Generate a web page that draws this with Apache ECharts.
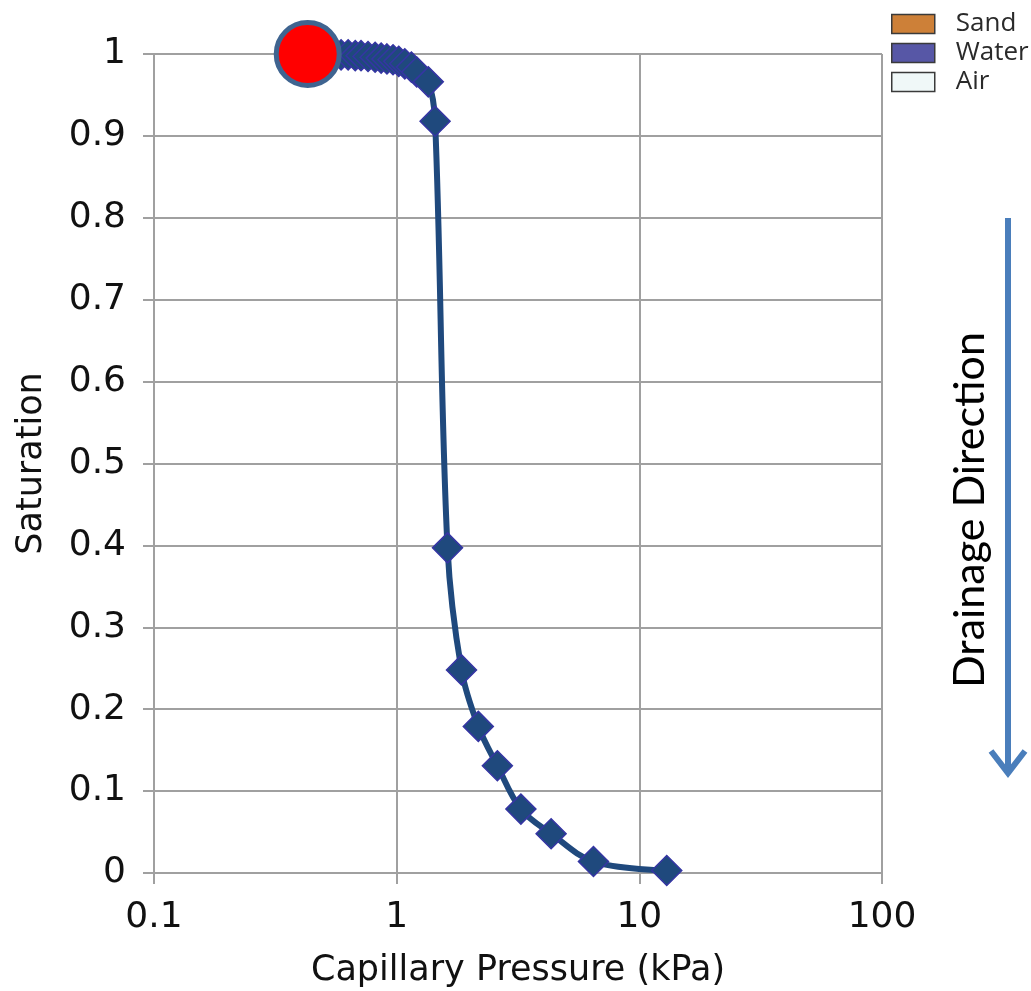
<!DOCTYPE html>
<html>
<head>
<meta charset="utf-8">
<style>
  html, body { margin: 0; padding: 0; background: #fff; }
  #chart { width: 1031px; height: 991px; }
</style>
<script src="https://cdn.jsdelivr.net/npm/echarts@6/dist/echarts.min.js"></script>
</head>
<body>
<div id="chart"></div>
<script>
// capillary pressure (kPa) and saturation along the drainage curve
var pressure = [0.43, 0.455, 0.483, 0.516, 0.552, 0.590, 0.631, 0.675, 0.713, 0.762,
                0.815, 0.863, 0.912, 0.966, 1.02, 1.08, 1.15, 1.21, 1.35, 1.44,
                1.62, 1.85, 2.17, 2.60, 3.25, 4.33, 6.47, 12.97];
var saturation = [1.0, 1.0, 1.0, 1.0, 0.999, 0.999, 0.999, 0.998, 0.998, 0.997,
                  0.996, 0.995, 0.994, 0.993, 0.991, 0.988, 0.984, 0.978, 0.966, 0.918,
                  0.397, 0.248, 0.179, 0.131, 0.078, 0.048, 0.014, 0.003];
// current state marker
var currentPoint = [0.43, 1.0];
var xTickLabels = ['0.1', '1', '10', '100'];
var yTickLabels = ['0', '0.1', '0.2', '0.3', '0.4', '0.5', '0.6', '0.7', '0.8', '0.9', '1'];
var legendNames = ['Sand', 'Water', 'Air'];
var legendColors = ['#cd8038', '#5757a6', '#f0f8f8'];

(function () {
    var chart = echarts.init(document.getElementById('chart'));
    var curve = pressure.map(function (p, i) { return [p, saturation[i]]; });
    var gridColor = '#a0a0a0';
    var axisFont = 'DejaVu Sans';

    var series = [
        {
            name: 'Drainage',
            type: 'line',
            data: curve,
            smooth: 0.35,
            symbol: 'diamond',
            symbolSize: 30,
            showAllSymbol: true,
            lineStyle: { color: '#1f497d', width: 6 },
            itemStyle: { color: '#1f497d', borderColor: '#3535a3', borderWidth: 1.5, opacity: 1 },
            z: 3
        },
        {
            name: 'Current',
            type: 'scatter',
            data: [currentPoint],
            symbol: 'circle',
            symbolSize: 63,
            itemStyle: { color: '#ff0000', borderColor: '#3f6490', borderWidth: 5, opacity: 1 },
            z: 5
        }
    ];
    legendNames.forEach(function (n, i) {
        series.push({ name: n, type: 'line', data: [], itemStyle: { color: legendColors[i] } });
    });

    chart.setOption({
        animation: false,
        grid: { left: 154, right: 149, top: 54, bottom: 118, outerBoundsMode: 'none' },
        legend: {
            data: legendNames.map(function (n, i) {
                return {
                    name: n,
                    icon: 'rect',
                    itemStyle: { color: legendColors[i], borderColor: '#3a3a3a', borderWidth: 1.5 }
                };
            }),
            orient: 'vertical',
            left: 891,
            top: 11,
            padding: 0,
            itemWidth: 43,
            itemHeight: 19,
            itemGap: 3,
            selectedMode: false,
            textStyle: { fontFamily: 'Open Sans', fontSize: 26, color: '#2a2a2a', padding: [0, 0, 0, 16] }
        },
        xAxis: {
            type: 'log',
            logBase: 10,
            min: 0.1,
            max: 100,
            name: 'Capillary Pressure (kPa)',
            nameLocation: 'middle',
            nameGap: 98,
            nameTextStyle: { fontFamily: axisFont, fontSize: 35, color: '#111', verticalAlign: 'middle' },
            axisLine: { lineStyle: { color: gridColor, width: 2 } },
            axisTick: { show: true, length: 11, lineStyle: { color: gridColor, width: 2 } },
            splitLine: { show: true, lineStyle: { color: gridColor, width: 2 } },
            minorTick: { show: false },
            axisLabel: {
                fontFamily: axisFont, fontSize: 36, color: '#111', margin: 27,
                formatter: function (v, i) { return xTickLabels[i] !== undefined ? xTickLabels[i] : String(v); }
            }
        },
        yAxis: {
            type: 'value',
            min: 0,
            max: 1,
            interval: 0.1,
            name: 'Saturation',
            nameLocation: 'middle',
            nameGap: 122,
            nameTextStyle: { fontFamily: axisFont, fontSize: 35, color: '#111', verticalAlign: 'middle' },
            axisLine: { show: true, lineStyle: { color: gridColor, width: 2 } },
            axisTick: { show: true, length: 11, lineStyle: { color: gridColor, width: 2 } },
            splitLine: { show: true, lineStyle: { color: gridColor, width: 2 } },
            axisLabel: {
                fontFamily: axisFont, fontSize: 36, color: '#111', margin: 28,
                formatter: function (v, i) { return yTickLabels[i]; }
            }
        },
        graphic: [
            {
                type: 'line',
                shape: { x1: 1008, y1: 218, x2: 1008, y2: 772 },
                style: { stroke: '#4a7ebb', lineWidth: 6 }
            },
            {
                type: 'polyline',
                shape: { points: [[991, 751], [1008, 773], [1025, 751]] },
                style: { stroke: '#4a7ebb', lineWidth: 6, fill: null, lineJoin: 'miter' }
            },
            {
                type: 'text',
                x: 970,
                y: 510,
                rotation: Math.PI / 2,
                style: {
                    text: 'Drainage Direction',
                    fontFamily: 'Lato',
                    fontSize: 43,
                    fill: '#000',
                    align: 'center',
                    verticalAlign: 'middle'
                }
            }
        ],
        series: series
    });

    window.addEventListener('resize', function () { chart.resize(); });
})();
</script>
</body>
</html>
